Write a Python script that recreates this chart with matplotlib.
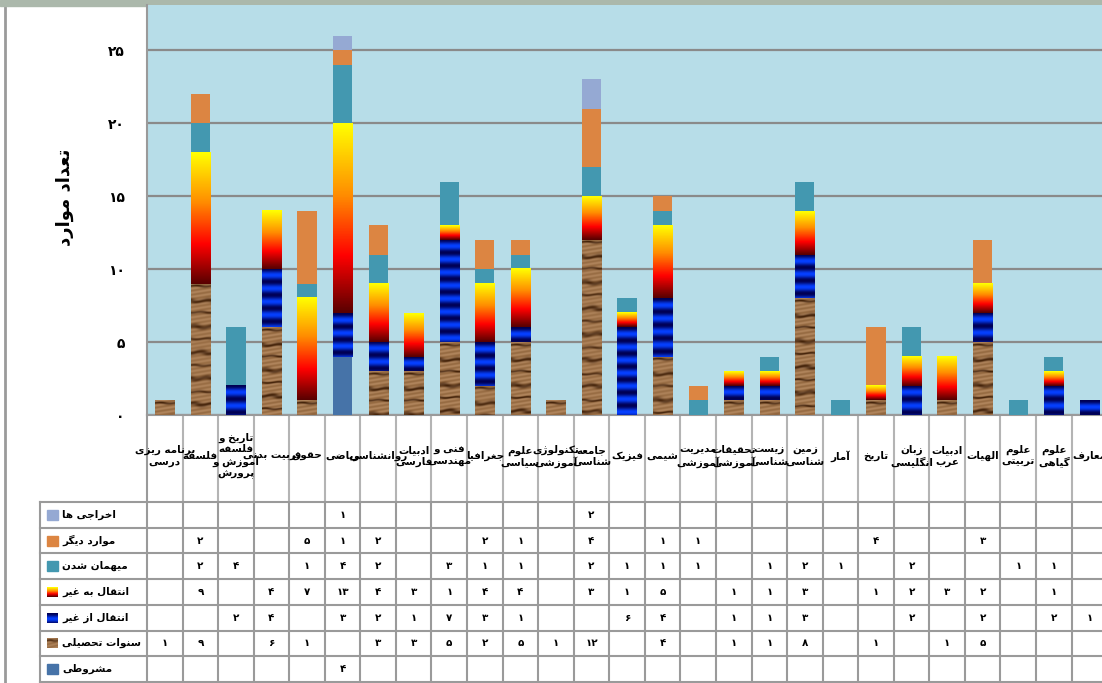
import numpy as np
import matplotlib
matplotlib.use('Agg')
import matplotlib.pyplot as plt
from matplotlib.colors import LinearSegmentedColormap
from matplotlib.patches import Rectangle

plt.rcParams['font.family'] = ['DejaVu Sans']

# canvas geometry (pixels)
W, H = 1102, 683
X0 = 147            # left edge of plot area / first table column
CW = 35.56          # width of one category column
Y_TOP, Y_BASE = 5, 415
ROW0, ROW_H = 502, 25.7
BAR_W = 0.54

categories = [
    "برنامه ریزی\nدرسی", "فلسفه", "تاریخ و\nفلسفه\nآموزش و\nپرورش", "تربیت بدنی",
    "حقوق", "ریاضی", "روانشناسی", "ادبیات\nفارسی", "فنی و\nمهندسی", "جغرافیا",
    "علوم\nسیاسی", "تکنولوژی\nآموزشی", "جامعه\nشناسی", "فیزیک", "شیمی",
    "مدیریت\nآموزشی", "تحقیقات\nآموزشی", "زیست\nشناسی", "زمین\nشناسی", "آمار",
    "تاریخ", "زبان\nانگلیسی", "ادبیات\nعرب", "الهیات", "علوم\nتربیتی",
    "علوم\nگیاهی", "معارف",
]

mashroot  = [0, 0, 0, 0, 0, 4, 0, 0, 0, 0, 0, 0, 0, 0, 0, 0, 0, 0, 0, 0, 0, 0, 0, 0, 0, 0, 0]
sanavat   = [1, 9, 0, 6, 1, 0, 3, 3, 5, 2, 5, 1, 12, 0, 4, 0, 1, 1, 8, 0, 1, 0, 1, 5, 0, 0, 0]
enteghal_az = [0, 0, 2, 4, 0, 3, 2, 1, 7, 3, 1, 0, 0, 6, 4, 0, 1, 1, 3, 0, 0, 2, 0, 2, 0, 2, 1]
enteghal_be = [0, 9, 0, 4, 7, 13, 4, 3, 1, 4, 4, 0, 3, 1, 5, 0, 1, 1, 3, 0, 1, 2, 3, 2, 0, 1, 0]
mehman    = [0, 2, 4, 0, 1, 4, 2, 0, 3, 1, 1, 0, 2, 1, 1, 1, 0, 1, 2, 1, 0, 2, 0, 0, 1, 1, 0]
mavared   = [0, 2, 0, 0, 5, 1, 2, 0, 0, 2, 1, 0, 4, 0, 1, 1, 0, 0, 0, 0, 4, 0, 0, 3, 0, 0, 0]
ekhraj    = [0, 0, 0, 0, 0, 1, 0, 0, 0, 0, 0, 0, 2, 0, 0, 0, 0, 0, 0, 0, 0, 0, 0, 0, 0, 0, 0]

yticks = [0, 5, 10, 15, 20, 25]

# ---- minimal Persian shaping (presentation forms + visual order) ----
DUAL = {'ب': 0xFE8F, 'ت': 0xFE95, 'ث': 0xFE99, 'ج': 0xFE9D, 'ح': 0xFEA1, 'خ': 0xFEA5,
        'س': 0xFEB1, 'ش': 0xFEB5, 'ص': 0xFEB9, 'ض': 0xFEBD, 'ط': 0xFEC1, 'ظ': 0xFEC5,
        'ع': 0xFEC9, 'غ': 0xFECD, 'ف': 0xFED1, 'ق': 0xFED5, 'ك': 0xFED9, 'ل': 0xFEDD,
        'م': 0xFEE1, 'ن': 0xFEE5, 'ه': 0xFEE9, 'ي': 0xFEF1, 'پ': 0xFB56, 'چ': 0xFB7A,
        'ک': 0xFB8E, 'گ': 0xFB92, 'ی': 0xFBFC}
RIGHT = {'ا': 0xFE8D, 'آ': 0xFE81, 'أ': 0xFE83, 'د': 0xFEA9, 'ذ': 0xFEAB, 'ر': 0xFEAD,
         'ز': 0xFEAF, 'و': 0xFEED, 'ژ': 0xFB8A, 'ة': 0xFE93}
LAM_ALEF = {'ا': 0xFEFB, 'آ': 0xFEF5}


def shape_line(line):
    out = []
    i, n = 0, len(line)
    while i < n:
        c = line[i]
        prev_links = i > 0 and line[i - 1] in DUAL
        if c == 'ل' and i + 1 < n and line[i + 1] in LAM_ALEF:
            out.append(chr(LAM_ALEF[line[i + 1]] + (1 if prev_links else 0)))
            i += 2
            continue
        nxt = line[i + 1] if i + 1 < n else ''
        next_links = nxt in DUAL or nxt in RIGHT
        if c in DUAL:
            base = DUAL[c]
            if prev_links and next_links:
                g = base + 3
            elif prev_links:
                g = base + 1
            elif next_links:
                g = base + 2
            else:
                g = base
            out.append(chr(g))
        elif c in RIGHT:
            out.append(chr(RIGHT[c] + (1 if prev_links else 0)))
        else:
            out.append(c)
        i += 1
    return ''.join(reversed(out))


def fa(text):
    return '\n'.join(shape_line(l) for l in text.split('\n'))


def fa_num(n):
    return str(n).translate(str.maketrans('0123456789', '۰۱۲۳۴۵۶۷۸۹'))


# ---- fill textures (rows run top -> bottom) ----
heat = LinearSegmentedColormap.from_list(
    'heat', [(0, '#5a0000'), (0.3, '#ff0000'), (0.62, '#ff8c00'), (1, '#ffff00')])


def tex_gradient(h_px):
    v = np.linspace(1, 0, max(h_px, 2)).reshape(-1, 1)
    return heat(v)[:, :, :3]


def tex_stripes(h_px):
    yy = np.arange(max(h_px, 2)).reshape(-1, 1)
    s = 0.5 + 0.5 * np.cos(2 * np.pi * yy / 13.0)
    dark = np.array([0.0, 0.0, 0.33])
    bright = np.array([0.02, 0.25, 1.0])
    return dark * s[..., None] + bright * (1 - s[..., None])


def tex_wood(h_px, w_px=24):
    yy, xx = np.mgrid[0:max(h_px, 2), 0:w_px]
    phase = (2 * np.pi * yy / 13.0
             + 0.35 * np.sin(2 * np.pi * xx / w_px + yy / 6.0)
             + 0.7 * np.sin(yy / 4.3))
    streak = (0.5 + 0.5 * np.sin(phase)) ** 7
    grain = 0.05 * np.sin(2 * np.pi * yy / 4.1 + xx / 5.0)
    light = np.array([0.64, 0.47, 0.31])
    dark = np.array([0.32, 0.19, 0.09])
    img = light * (1 - streak[..., None]) + dark * streak[..., None]
    return np.clip(img + grain[..., None], 0, 1)


# stacking order, bottom to top
stack = [
    ("مشروطی", mashroot, '#4673a8', None),
    ("سنوات تحصیلی", sanavat, '#9b7048', tex_wood),
    ("انتقال از غیر", enteghal_az, '#0020c0', tex_stripes),
    ("انتقال به غیر", enteghal_be, '#ff6000', tex_gradient),
    ("میهمان شدن", mehman, '#4398b0', None),
    ("موارد دیگر", mavared, '#dc8542', None),
    ("اخراجی ها", ekhraj, '#95a9d3', None),
]

fig = plt.figure(figsize=(W / 100, H / 100), dpi=100)

# pixel-space layer for the table and frame
tab = fig.add_axes([0, 0, 1, 1])
tab.set_xlim(0, W)
tab.set_ylim(H, 0)
tab.axis('off')

n_cat = len(categories)
X1 = X0 + CW * n_cat
ax = fig.add_axes([X0 / W, 1 - Y_BASE / H, (X1 - X0) / W, (Y_BASE - Y_TOP) / H])
ax.set_facecolor('#b7dde8')
ppu = (Y_BASE - Y_TOP) / 28.1

x = np.arange(n_cat)
bottom = np.zeros(n_cat)
for name, vals, color, tex in stack:
    vals = np.array(vals, dtype=float)
    bars = ax.bar(x, vals, BAR_W, bottom=bottom, color=color, linewidth=0, zorder=3)
    if tex is not None:
        for p in bars.patches:
            if p.get_height() <= 0:
                continue
            img = tex(int(round(p.get_height() * ppu)))
            ax.imshow(img, extent=(p.get_x(), p.get_x() + p.get_width(),
                                   p.get_y(), p.get_y() + p.get_height()),
                      origin='upper', aspect='auto', interpolation='bilinear', zorder=3.5)
    bottom += vals

ax.set_xlim(-0.5, n_cat - 0.5)
ax.set_ylim(0, 28.1)
ax.set_aspect('auto')
ax.set_yticks(yticks)
ax.set_yticklabels([fa_num(v) for v in yticks], fontsize=10, fontweight='bold')
ax.tick_params(axis='y', length=0, pad=16)
ax.set_xticks([])
ax.yaxis.grid(True, color='#8a8a8a', linewidth=1.6)
ax.set_axisbelow(True)
for s in ['top', 'right']:
    ax.spines[s].set_visible(False)
for s in ['left', 'bottom']:
    ax.spines[s].set_color('#9a9a9a')
    ax.spines[s].set_linewidth(1.5)

fig.text(65 / W, 1 - 197 / H, fa("تعداد موارد"), rotation=90, fontsize=13,
         fontweight='bold', ha='center', va='center')

# frame
tab.add_patch(Rectangle((0, 0), W, 5.5, color='#abb8ab', zorder=5))
tab.plot([5, 5], [5.5, H], color='#9a9a9a', lw=2)

# category header row
col_x = X0 + CW * np.arange(n_cat + 1)
for cx in col_x[1:]:
    tab.plot([cx, cx], [Y_BASE, ROW0], color='#b4b4b4', lw=1.5)
tab.plot([X0, X0], [Y_BASE, H], color='#9a9a9a', lw=1.5)
for i, cat in enumerate(categories):
    tab.text(col_x[i] + CW / 2, 456, fa(cat), ha='center', va='center',
             multialignment='center', fontsize=7.5, fontweight='bold', linespacing=1.15)

# data table, top row first
table_rows = stack[::-1]
n_rows = len(table_rows)
row_y = ROW0 + ROW_H * np.arange(n_rows + 1)
for ry in row_y:
    tab.plot([40, W], [ry, ry], color='#9a9a9a', lw=1.5)
tab.plot([40, 40], [ROW0, row_y[-1]], color='#9a9a9a', lw=1.5)
for cx in col_x[1:]:
    tab.plot([cx, cx], [ROW0, row_y[-1]], color='#9a9a9a', lw=1.5)

for r, (name, vals, color, tex) in enumerate(table_rows):
    cy = row_y[r] + ROW_H / 2
    sx0, sx1, sy0, sy1 = 47, 58, cy - 5, cy + 5
    if tex is None:
        tab.add_patch(Rectangle((sx0, sy0), sx1 - sx0, sy1 - sy0, color=color))
    else:
        tab.imshow(tex(12), extent=(sx0, sx1, sy1, sy0), origin='upper',
                   aspect='auto', interpolation='bilinear')
    tab.text(62, cy, fa(name), ha='left', va='center', fontsize=7.5, fontweight='bold')
    for i, v in enumerate(vals):
        if v:
            tab.text(col_x[i] + CW / 2, cy, fa_num(v), ha='center', va='center',
                     fontsize=7.5, fontweight='bold')

tab.set_xlim(0, W)
tab.set_ylim(H, 0)
tab.set_aspect('auto')

fig.savefig('out.png', dpi=100)
